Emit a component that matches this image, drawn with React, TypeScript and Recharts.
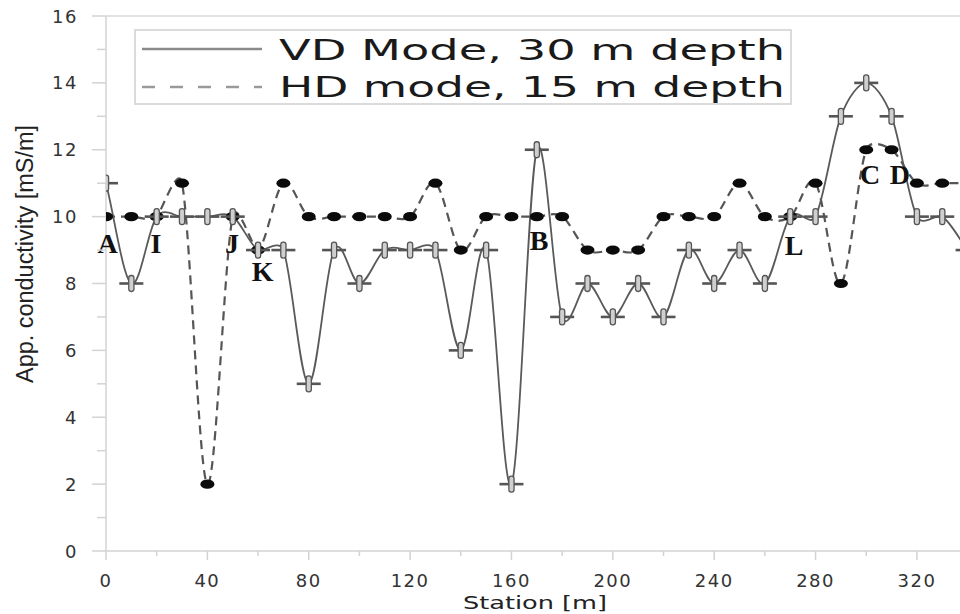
import React from 'react';
import { LineChart, Line, XAxis, YAxis, ReferenceLine, ReferenceDot, Legend } from 'recharts';

// station positions [m]
const stations = [
  0, 10, 20, 30, 40, 50, 60, 70, 80, 90, 100, 110, 120, 130, 140, 150, 160, 170,
  180, 190, 200, 210, 220, 230, 240, 250, 260, 270, 280, 290, 300, 310, 320, 330, 340,
];
// VD mode, 30 m depth [mS/m]
const vdValues = [
  11, 8, 10, 10, 10, 10, 9, 9, 5, 9, 8, 9, 9, 9, 6, 9, 2, 12,
  7, 8, 7, 8, 7, 9, 8, 9, 8, 10, 10, 13, 14, 13, 10, 10, 9,
];
// HD mode, 15 m depth [mS/m]
const hdValues = [
  10, 10, 10, 11, 2, 10, 9, 11, 10, 10, 10, 10, 10, 11, 9, 10, 10, 10,
  10, 9, 9, 9, 10, 10, 10, 11, 10, 10, 11, 8, 12, 12, 11, 11, 11,
];

const xTicks = [0, 20, 40, 60, 80, 100, 120, 140, 160, 180, 200, 220, 240, 260, 280, 300, 320];
const yTicks = [0, 1, 2, 3, 4, 5, 6, 7, 8, 9, 10, 11, 12, 13, 14, 15, 16];

const seriesNames = ['VD Mode, 30 m depth', 'HD mode, 15 m depth'];

// letter annotations placed in data units
const noteLetters = ['A', 'I', 'J', 'K', 'B', 'L', 'C', 'D'];
const noteStations = [0.6, 19.7, 49.7, 61.8, 170.9, 271.5, 301.5, 313.3];
const noteValues = [9.2, 9.2, 9.2, 8.35, 9.3, 9.15, 11.25, 11.25];

const rows = stations.map((s, i) => ({ station: s, vd: vdValues[i], hd: hdValues[i] }));
const notes = noteLetters.map((t, i) => ({ text: t, x: noteStations[i], y: noteValues[i] }));

// Excel-like smoothed line (bezier through every point)
const excelSmooth = (context: any) => {
  let pts: number[][] = [];
  const dist = (a: number[], b: number[]) => Math.hypot(a[0] - b[0], a[1] - b[1]);
  return {
    areaStart() {},
    areaEnd() {},
    lineStart() {
      pts = [];
    },
    point(x: number, y: number) {
      pts.push([+x, +y]);
    },
    lineEnd() {
      const n = pts.length;
      if (!n) return;
      context.moveTo(pts[0][0], pts[0][1]);
      for (let i = 0; i < n - 1; i++) {
        const p0 = pts[i === 0 ? 0 : i - 1];
        const p1 = pts[i];
        const p2 = pts[i + 1];
        const p3 = pts[i + 2 < n ? i + 2 : n - 1];
        const d12 = dist(p1, p2);
        const d02 = dist(p0, p2) || 1e-9;
        const d13 = dist(p1, p3) || 1e-9;
        let k1 = p0 === p1 ? 1 / 3 : 1 / 6;
        let k2 = p2 === p3 ? 1 / 3 : 1 / 6;
        const a = d02 / 6 >= d12 / 2;
        const b = d13 / 6 >= d12 / 2;
        if (a && b) {
          k1 = d12 / 2 / d02;
          k2 = d12 / 2 / d13;
        } else if (a) {
          k1 = d12 / 2 / d02;
          k2 = d12 / 2 / d02;
        } else if (b) {
          k1 = d12 / 2 / d13;
          k2 = d12 / 2 / d13;
        }
        context.bezierCurveTo(
          p1[0] + (p2[0] - p0[0]) * k1,
          p1[1] + (p2[1] - p0[1]) * k1,
          p2[0] - (p3[0] - p1[0]) * k2,
          p2[1] - (p3[1] - p1[1]) * k2,
          p2[0],
          p2[1]
        );
      }
    },
  };
};

const CrossDot = ({ cx, cy }: any) => (
  <g>
    <line x1={cx - 12} y1={cy} x2={cx + 12} y2={cy} stroke="#555" strokeWidth={2.6} />
    <rect x={cx - 2.6} y={cy - 8} width={5.2} height={16} rx={2.4} fill="#cfcfcf" stroke="#555" strokeWidth={1.3} />
  </g>
);

const OvalDot = ({ cx, cy }: any) => <ellipse cx={cx} cy={cy} rx={7} ry={4.6} fill="#0b0b0b" />;

const XTick = ({ x, y, payload }: any) => {
  const major = payload.value % 40 === 0;
  return (
    <g>
      <line x1={x} y1={y} x2={x} y2={y + (major ? 9 : 5)} stroke="#d3d3d3" strokeWidth={1.5} />
      {major && (
        <text x={x} y={y + 35.5} textAnchor="middle" fontFamily="DejaVu Sans" fontSize={18} fill="#333" letterSpacing={1.5}>
          {payload.value}
        </text>
      )}
    </g>
  );
};

const YTick = ({ x, y, payload }: any) => {
  const major = payload.value % 2 === 0;
  return (
    <g>
      <line x1={x - (major ? 14 : 9)} y1={y} x2={x} y2={y} stroke="#d3d3d3" strokeWidth={1.5} />
      {major && (
        <text x={x - 28} y={y + 6.5} textAnchor="end" fontFamily="DejaVu Sans" fontSize={18} fill="#333" letterSpacing={1.5}>
          {payload.value}
        </text>
      )}
    </g>
  );
};

const renderLegend = () => (
  <svg width={660} height={78}>
    <rect x={1} y={1} width={656} height={74} fill="#fff" stroke="#cfcfcf" strokeWidth={1.5} />
    <line x1={8} x2={128} y1={20} y2={20} stroke="#8a8a8a" strokeWidth={2.5} />
    <line x1={8} x2={128} y1={58} y2={58} stroke="#9a9a9a" strokeWidth={2.5} strokeDasharray="13 15" />
    {seriesNames.map((name, i) => (
      <text
        key={name}
        x={145}
        y={31 + i * 37}
        fontFamily="DejaVu Sans"
        fontSize={28}
        fill="#1a1a1a"
        textLength={506}
        lengthAdjust="spacingAndGlyphs"
      >
        {name}
      </text>
    ))}
  </svg>
);

export default function App() {
  return (
    <div style={{ position: 'absolute', left: 0, top: 0, width: 960, height: 614, background: '#fff' }}>
      <LineChart width={960} height={614} data={rows} margin={{ top: 16, right: 0, left: 46, bottom: 33 }}>
        <XAxis
          type="number"
          dataKey="station"
          domain={[0, 337]}
          allowDataOverflow
          ticks={xTicks}
          interval={0}
          tickSize={0}
          tickMargin={0}
          tickLine={false}
          tick={XTick}
          height={30}
          axisLine={{ stroke: '#d3d3d3', strokeWidth: 1.5 }}
          label={{
            content: () => (
              <text x={463} y={609} fontFamily="DejaVu Sans" fontSize={18} fill="#222" textLength={144} lengthAdjust="spacingAndGlyphs">
                Station [m]
              </text>
            ),
          }}
        />
        <YAxis
          type="number"
          domain={[0, 16]}
          ticks={yTicks}
          interval={0}
          tickSize={0}
          tickMargin={0}
          tickLine={false}
          tick={YTick}
          width={60}
          axisLine={{ stroke: '#d3d3d3', strokeWidth: 1.5 }}
          label={{
            content: () => (
              <text
                x={33}
                y={383}
                transform="rotate(-90 33 383)"
                fontFamily="Liberation Sans Narrow, Liberation Sans"
                fontSize={23}
                fill="#222"
                textLength={258}
                lengthAdjust="spacingAndGlyphs"
              >
                App. conductivity [mS/m]
              </text>
            ),
          }}
        />
        <ReferenceLine y={16} stroke="#d9d9d9" strokeWidth={1.5} />
        <Legend layout="horizontal" verticalAlign="middle" align="center" wrapperStyle={{ top: 29, left: 134, width: 660, height: 78 }} content={renderLegend} />
        <Line
          dataKey="hd"
          name={seriesNames[1]}
          type={excelSmooth as any}
          stroke="#555"
          strokeWidth={2.2}
          strokeDasharray="9 6"
          dot={(p: any) => <OvalDot key={`hd-${p.index}`} {...p} />}
          activeDot={false}
          isAnimationActive={false}
        />
        <Line
          dataKey="vd"
          name={seriesNames[0]}
          type={excelSmooth as any}
          stroke="#5a5a5a"
          strokeWidth={1.8}
          dot={(p: any) => <CrossDot key={`vd-${p.index}`} {...p} />}
          activeDot={false}
          isAnimationActive={false}
        />
        {notes.map((n) => (
          <ReferenceDot
            key={n.text}
            x={n.x}
            y={n.y}
            r={0}
            shape={(p: any) => (
              <text
                x={p.cx}
                y={p.cy}
                textAnchor="middle"
                dominantBaseline="central"
                fontFamily="Liberation Serif"
                fontWeight="bold"
                fontSize={28}
                fill="#111"
              >
                {n.text}
              </text>
            )}
          />
        ))}
      </LineChart>
    </div>
  );
}
